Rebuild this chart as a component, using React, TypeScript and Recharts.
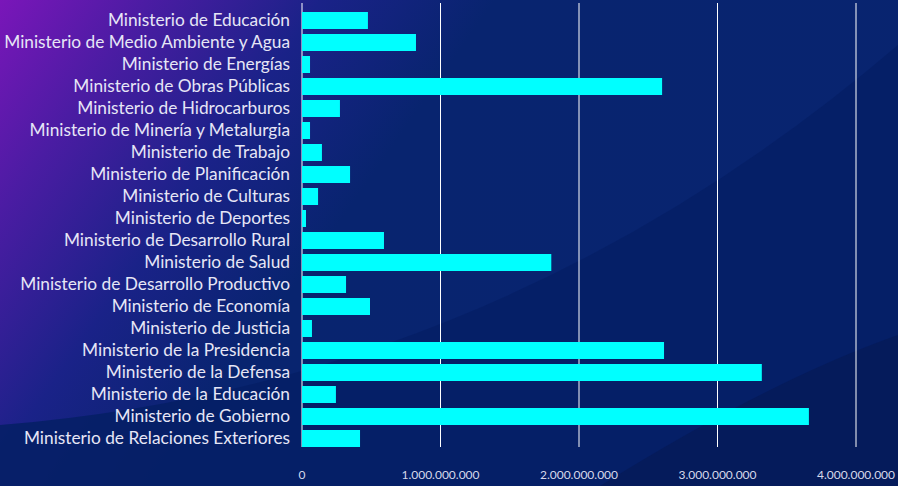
import { BarChart, Bar, XAxis, YAxis, CartesianGrid } from "recharts";

const ministerios = [
  "Ministerio de Educación",
  "Ministerio de Medio Ambiente y Agua",
  "Ministerio de Energías",
  "Ministerio de Obras Públicas",
  "Ministerio de Hidrocarburos",
  "Ministerio de Minería y Metalurgia",
  "Ministerio de Trabajo",
  "Ministerio de Planificación",
  "Ministerio de Culturas",
  "Ministerio de Deportes",
  "Ministerio de Desarrollo Rural",
  "Ministerio de Salud",
  "Ministerio de Desarrollo Productivo",
  "Ministerio de Economía",
  "Ministerio de Justicia",
  "Ministerio de la Presidencia",
  "Ministerio de la Defensa",
  "Ministerio de la Educación",
  "Ministerio de Gobierno",
  "Ministerio de Relaciones Exteriores",
];

const montos = [
  476000000, 823000000, 58000000, 2600000000, 274000000, 58000000, 144000000,
  347000000, 116000000, 29000000, 592000000, 1800000000, 318000000, 491000000,
  72000000, 2614000000, 3320000000, 245000000, 3660000000, 419000000,
];

const xTicks = [0, 1000000000, 2000000000, 3000000000, 4000000000];

const data = ministerios.map((name, i) => ({ name, monto: montos[i] }));

const fmt = (v: number) => String(v).replace(/\B(?=(\d{3})+(?!\d))/g, ".");

export default function App() {
  return (
    <div
      style={{
        position: "absolute",
        left: 0,
        top: 0,
        width: 898,
        height: 486,
        overflow: "hidden",
        background:
          "linear-gradient(125deg, #7a16b9 0%, #4b1ca3 12%, #1a2288 26%, #08246f 40%, #082470 100%)",
        fontFamily: "Lato, sans-serif",
      }}
    >
      <svg
        width={898}
        height={486}
        style={{ position: "absolute", left: 0, top: 0 }}
      >
        <path
          d="M 0 425 Q 500 385 898 45 L 898 486 L 0 486 Z"
          fill="#061f66"
          opacity={0.9}
        />
        <path
          d="M 600 486 Q 770 380 898 335 L 898 486 Z"
          fill="#051b5a"
          opacity={0.9}
        />
      </svg>
      <div style={{ position: "absolute", left: 0, top: 0 }}>
        <BarChart
          width={898}
          height={486}
          data={data}
          layout="vertical"
          margin={{ top: 9, right: 42, bottom: 0, left: 0 }}
        >
          <CartesianGrid
            horizontal={false}
            stroke="#ffffff"
            strokeWidth={1}
            y={3}
            height={444}
          />
          <XAxis
            type="number"
            domain={[0, 4000000000]}
            ticks={xTicks}
            tickFormatter={fmt}
            axisLine={false}
            tickLine={false}
            tickSize={0}
            tickMargin={21}
            height={37}
            tick={{ fill: "#d6d8ea", fontSize: 12 }}
          />
          <YAxis
            type="category"
            dataKey="name"
            width={302}
            interval={0}
            axisLine={false}
            tickLine={false}
            tickSize={0}
            tickMargin={12}
            tick={{ fill: "#e6e6f6", fontSize: 17.3 }}
          />
          <Bar
            dataKey="monto"
            fill="#00ffff"
            barSize={17}
            isAnimationActive={false}
          />
        </BarChart>
      </div>
    </div>
  );
}
